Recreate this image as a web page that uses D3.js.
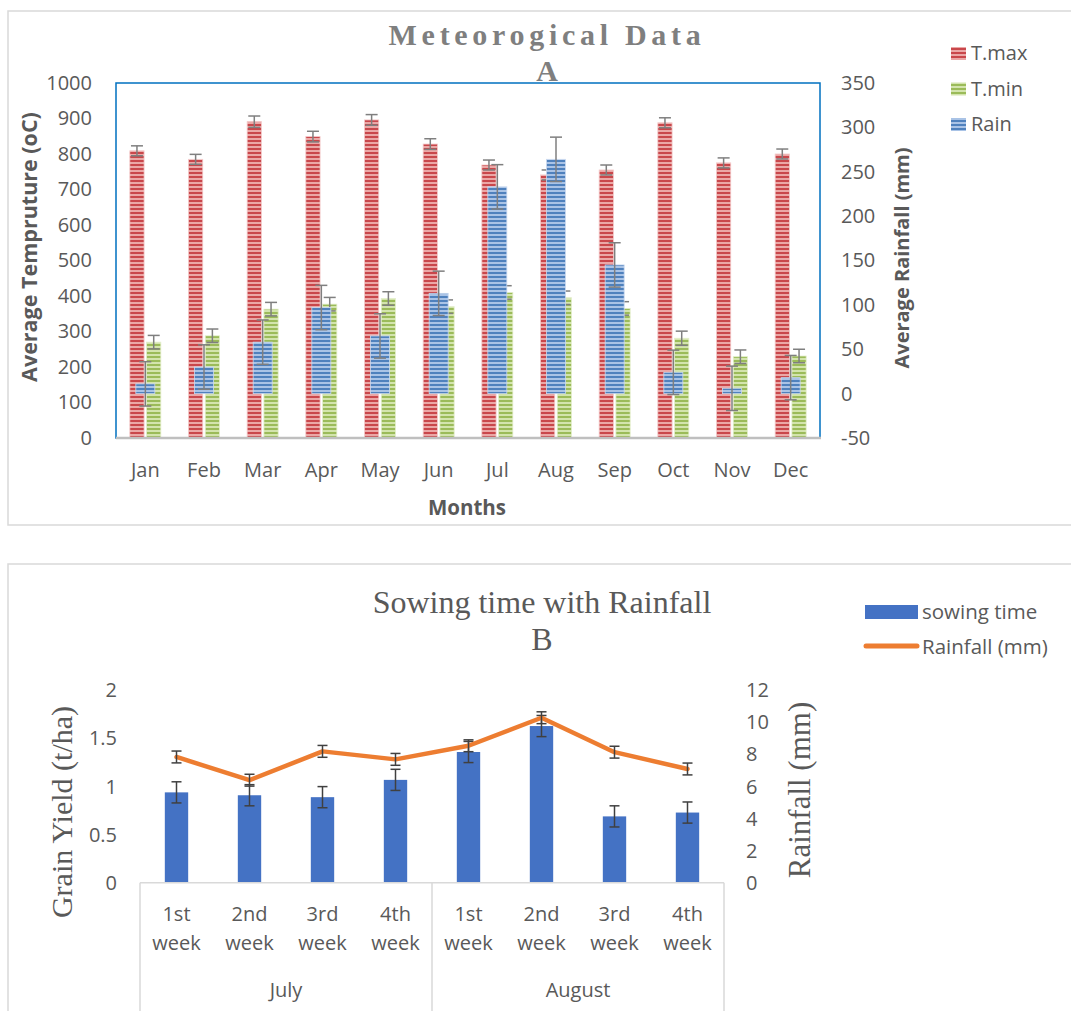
<!DOCTYPE html>
<html>
<head>
<meta charset="utf-8">
<script src="https://cdn.jsdelivr.net/npm/d3@7"></script>
<style>
body { margin: 0; background: #fff; }
</style>
</head>
<body>
<script>
// chart A data
var months = ["Jan","Feb","Mar","Apr","May","Jun","Jul","Aug","Sep","Oct","Nov","Dec"];
var tmax = [809, 785, 891, 849, 896, 828, 769, 741, 755, 888, 775, 800];
var tmaxErr = [14, 14, 16, 15, 15, 15, 14, 14, 14, 14, 14, 14];
var tmin = [270, 288, 363, 377, 393, 370, 410, 395, 365, 281, 229, 231];
var tminErr = [19, 19, 19, 19, 19, 19, 19, 19, 19, 20, 19, 19];
var rain = [11, 30, 58, 97, 65, 113, 233, 264, 145, 24, 6, 18];
var rainErr = [25, 25, 25, 25, 25, 25, 25, 25, 25, 25, 25, 25];
var tempTicks = [0,100,200,300,400,500,600,700,800,900,1000];
var rainTicks = [-50,0,50,100,150,200,250,300,350];

// chart B data
var weeks = ["1st week","2nd week","3rd week","4th week","1st week","2nd week","3rd week","4th week"];
var monthGroups = ["July","August"];
var yieldVals = [0.94, 0.91, 0.89, 1.07, 1.36, 1.63, 0.69, 0.73];
var yieldErr = [0.11, 0.11, 0.11, 0.11, 0.11, 0.11, 0.11, 0.11];
var rainfallB = [7.85, 6.4, 8.2, 7.7, 8.55, 10.3, 8.15, 7.1];
var rainfallErr = [0.37, 0.37, 0.37, 0.37, 0.37, 0.37, 0.37, 0.37];
var yieldTicks = [0, 0.5, 1, 1.5, 2];
var rainfallTicks = [0,2,4,6,8,10,12];

drawCharts();

function drawCharts(){

var svg = d3.select("body").append("svg")
    .attr("width", 1071)
    .attr("height", 1011)
    .attr("font-family", "Open Sans");

var defs = svg.append("defs");
//striped fills like the excel pattern
function stripes(id, light, dark){
    var p = defs.append("pattern")
        .attr("id", id)
        .attr("patternUnits", "userSpaceOnUse")
        .attr("width", 4).attr("height", 4);
    p.append("rect").attr("width", 4).attr("height", 4).attr("fill", light);
    p.append("rect").attr("width", 4).attr("height", 2).attr("fill", dark);
}
stripes("redS", "#eba7a6", "#c9474b");
stripes("greenS", "#d3e4ad", "#9bbb59");
stripes("blueS", "#a9c3e6", "#4f81bd");

var grey = "#595959";

// ---------- chart A ----------
svg.append("rect").attr("x", 8).attr("y", 11).attr("width", 1080).attr("height", 514)
    .attr("fill", "none").attr("stroke", "#d9d9d9").attr("stroke-width", 1.5);

var pLeft = 116, pRight = 820, pTop = 83, pBottom = 438;

var x0 = d3.scaleBand().domain(months).range([pLeft, pRight]);
var x1 = d3.scaleBand().domain(["tmax","tmin"])
    .range([x0.bandwidth()/2 - 15.5, x0.bandwidth()/2 + 15.5]).paddingInner(0.15);
var yT = d3.scaleLinear().domain([0, 1000]).range([pBottom, pTop]);
var yR = d3.scaleLinear().domain([-50, 350]).range([pBottom, pTop]);

svg.append("rect").attr("x", pLeft).attr("y", pTop).attr("width", pRight-pLeft).attr("height", pBottom-pTop)
    .attr("fill", "none").attr("stroke", "#0070c0").attr("stroke-width", 1.5);

var gA = svg.append("g");

function errBars(g, data, errs, xf, yf, cap, color){
    data.forEach(function(v, i){
        var cx = xf(i);
        var y1 = yf(v + errs[i]), y2 = yf(v - errs[i]);
        g.append("line").attr("x1", cx).attr("x2", cx).attr("y1", y1).attr("y2", y2)
            .attr("stroke", color).attr("stroke-width", 1.5);
        [y1, y2].forEach(function(yy){
            g.append("line").attr("x1", cx - cap/2).attr("x2", cx + cap/2).attr("y1", yy).attr("y2", yy)
                .attr("stroke", color).attr("stroke-width", 1.5);
        });
    });
}

gA.selectAll(".tmax").data(tmax).enter().append("rect")
    .attr("x", function(d, i){ return x0(months[i]) + x1("tmax"); })
    .attr("y", function(d){ return yT(d); })
    .attr("width", x1.bandwidth())
    .attr("height", function(d){ return pBottom - yT(d); })
    .attr("fill", "url(#redS)").attr("stroke", "#f3c9c9").attr("stroke-width", 0.8);
gA.selectAll(".tmin").data(tmin).enter().append("rect")
    .attr("x", function(d, i){ return x0(months[i]) + x1("tmin"); })
    .attr("y", function(d){ return yT(d); })
    .attr("width", x1.bandwidth())
    .attr("height", function(d){ return pBottom - yT(d); })
    .attr("fill", "url(#greenS)").attr("stroke", "#e3eecb").attr("stroke-width", 0.8);

errBars(gA, tmax, tmaxErr, function(i){ return x0(months[i]) + x1("tmax") + x1.bandwidth()/2; }, yT, 12, "#7f7f7f");
errBars(gA, tmin, tminErr, function(i){ return x0(months[i]) + x1("tmin") + x1.bandwidth()/2; }, yT, 12, "#7f7f7f");

// rain on secondary axis, drawn over temperature bars
var rainW = 19;
gA.selectAll(".rain").data(rain).enter().append("rect")
    .attr("x", function(d, i){ return x0(months[i]) + x0.bandwidth()/2 - rainW/2; })
    .attr("y", function(d){ return yR(d); })
    .attr("width", rainW)
    .attr("height", function(d){ return yR(0) - yR(d); })
    .attr("fill", "url(#blueS)").attr("stroke", "#c9d9ef").attr("stroke-width", 0.8);
errBars(gA, rain, rainErr, function(i){ return x0(months[i]) + x0.bandwidth()/2; }, yR, 12, "#7f7f7f");

svg.append("line").attr("x1", pLeft).attr("x2", pRight + 1).attr("y1", pBottom).attr("y2", pBottom)
    .attr("stroke", "#bfbfbf").attr("stroke-width", 2.5);

// axes text
var yAxisL = d3.axisLeft(yT).tickValues(tempTicks).tickSize(0).tickPadding(24).tickFormat(String);
var gl = svg.append("g").attr("transform", "translate(" + pLeft + ",0)").call(yAxisL);
var yAxisR = d3.axisRight(yR).tickValues(rainTicks).tickSize(0).tickPadding(21).tickFormat(String);
var gr = svg.append("g").attr("transform", "translate(" + pRight + ",0)").call(yAxisR);
var xAxisA = d3.axisBottom(x0).tickSize(0).tickPadding(25);
var gx = svg.append("g").attr("transform", "translate(0," + pBottom + ")").call(xAxisA);
[gl, gr, gx].forEach(function(g){
    g.select(".domain").remove();
    g.selectAll("text").attr("font-size", 20).attr("fill", grey).attr("font-family", "Open Sans");
});

svg.append("text").attr("x", 467).attr("y", 515).attr("text-anchor", "middle")
    .attr("font-size", 20.5).attr("font-weight", "bold").attr("fill", grey).text("Months");
svg.append("text").attr("transform", "translate(37,247) rotate(-90)").attr("text-anchor", "middle")
    .attr("font-size", 21.5).attr("font-weight", "bold").attr("fill", grey).text("Average Tempruture (oC)");
svg.append("text").attr("transform", "translate(909,258) rotate(-90)").attr("text-anchor", "middle")
    .attr("font-size", 20).attr("font-weight", "bold").attr("fill", grey).text("Average Rainfall (mm)");

svg.append("text").attr("x", 547).attr("y", 45).attr("text-anchor", "middle")
    .attr("font-family", "Liberation Serif").attr("font-weight", "bold").attr("font-size", 30)
    .attr("letter-spacing", 4.7).attr("fill", "#7f7f7f").text("Meteorogical Data");
svg.append("text").attr("x", 547).attr("y", 81).attr("text-anchor", "middle")
    .attr("font-family", "Liberation Serif").attr("font-weight", "bold").attr("font-size", 30)
    .attr("fill", "#7f7f7f").text("A");

var legA = [["T.max","url(#redS)"],["T.min","url(#greenS)"],["Rain","url(#blueS)"]];
legA.forEach(function(l, i){
    var yy = 60 + i * 35.5;
    svg.append("rect").attr("x", 951).attr("y", yy - 13).attr("width", 15).attr("height", 13).attr("fill", l[1]);
    svg.append("text").attr("x", 971).attr("y", yy).attr("font-size", 20).attr("fill", grey).text(l[0]);
});

// ---------- chart B ----------
svg.append("rect").attr("x", 8).attr("y", 564).attr("width", 1080).attr("height", 460)
    .attr("fill", "none").attr("stroke", "#d9d9d9").attr("stroke-width", 1.5);

var bl = 140, br = 724, bb = 882.7, bt = 690.5;
var xb = d3.scaleBand().domain(d3.range(weeks.length)).range([bl, br]).paddingInner(0.68).paddingOuter(0.34);
var yY = d3.scaleLinear().domain([0, 2]).range([bb, bt]);
var yRf = d3.scaleLinear().domain([0, 12]).range([bb, bt]);
var gB = svg.append("g");

gB.selectAll(".yb").data(yieldVals).enter().append("rect")
    .attr("x", function(d, i){ return xb(i); })
    .attr("y", function(d){ return yY(d); })
    .attr("width", xb.bandwidth())
    .attr("height", function(d){ return bb - yY(d); })
    .attr("fill", "#4472c4");

function cxB(i){ return xb(i) + xb.bandwidth()/2; }
errBars(gB, yieldVals, yieldErr, cxB, yY, 10, "#404040");

var line = d3.line().x(function(d, i){ return cxB(i); }).y(function(d){ return yRf(d); });
gB.append("path").datum(rainfallB).attr("d", line).attr("fill", "none")
    .attr("stroke", "#ed7d31").attr("stroke-width", 4.5).attr("stroke-linejoin", "round").attr("stroke-linecap", "round");
errBars(gB, rainfallB, rainfallErr, cxB, yRf, 10, "#404040");

// category axis
var catLines = svg.append("g").attr("stroke", "#d9d9d9").attr("stroke-width", 1.5);
catLines.append("line").attr("x1", bl).attr("x2", br).attr("y1", bb).attr("y2", bb);
[0, 4, 8].forEach(function(k){
    var xx = k < 8 ? xb.step() * k + bl : br;
    catLines.append("line").attr("x1", xx).attr("x2", xx).attr("y1", bb).attr("y2", 1011);
});
weeks.forEach(function(w, i){
    var parts = w.split(" ");
    var t = svg.append("text").attr("x", cxB(i)).attr("y", 921).attr("text-anchor", "middle")
        .attr("font-size", 20).attr("fill", grey);
    t.append("tspan").attr("x", cxB(i)).text(parts[0]);
    t.append("tspan").attr("x", cxB(i)).attr("dy", 29).text(parts[1]);
});
monthGroups.forEach(function(m, j){
    svg.append("text").attr("x", (cxB(j*4) + cxB(j*4+3))/2).attr("y", 997).attr("text-anchor", "middle")
        .attr("font-size", 20).attr("fill", grey).text(m);
});

var gyl = svg.append("g").attr("transform", "translate(" + bl + ",0)")
    .call(d3.axisLeft(yY).tickValues(yieldTicks).tickSize(0).tickPadding(23).tickFormat(String));
var gyr = svg.append("g").attr("transform", "translate(" + br + ",0)")
    .call(d3.axisRight(yRf).tickValues(rainfallTicks).tickSize(0).tickPadding(22).tickFormat(String));
[gyl, gyr].forEach(function(g){
    g.select(".domain").remove();
    g.selectAll("text").attr("font-size", 20).attr("fill", grey).attr("font-family", "Open Sans");
});

svg.append("text").attr("transform", "translate(72,812) rotate(-90)").attr("text-anchor", "middle")
    .attr("font-family", "Liberation Serif").attr("font-size", 30).attr("fill", grey).text("Grain Yield (t/ha)");
svg.append("text").attr("transform", "translate(810,790) rotate(-90)").attr("text-anchor", "middle")
    .attr("font-family", "Liberation Serif").attr("font-size", 31).attr("fill", grey).text("Rainfall (mm)");

svg.append("text").attr("x", 542).attr("y", 613).attr("text-anchor", "middle")
    .attr("font-family", "Liberation Serif").attr("font-size", 32).attr("fill", grey).text("Sowing time with Rainfall");
svg.append("text").attr("x", 542).attr("y", 650).attr("text-anchor", "middle")
    .attr("font-family", "Liberation Serif").attr("font-size", 32).attr("fill", grey).text("B");

svg.append("rect").attr("x", 865).attr("y", 605).attr("width", 53).attr("height", 14).attr("fill", "#4472c4");
svg.append("text").attr("x", 922).attr("y", 619).attr("font-size", 20.5).attr("fill", grey).text("sowing time");
svg.append("line").attr("x1", 866).attr("x2", 917).attr("y1", 646).attr("y2", 646)
    .attr("stroke", "#ed7d31").attr("stroke-width", 5).attr("stroke-linecap", "round");
svg.append("text").attr("x", 922).attr("y", 654).attr("font-size", 20.5).attr("fill", grey).text("Rainfall (mm)");
}
</script>
</body>
</html>
